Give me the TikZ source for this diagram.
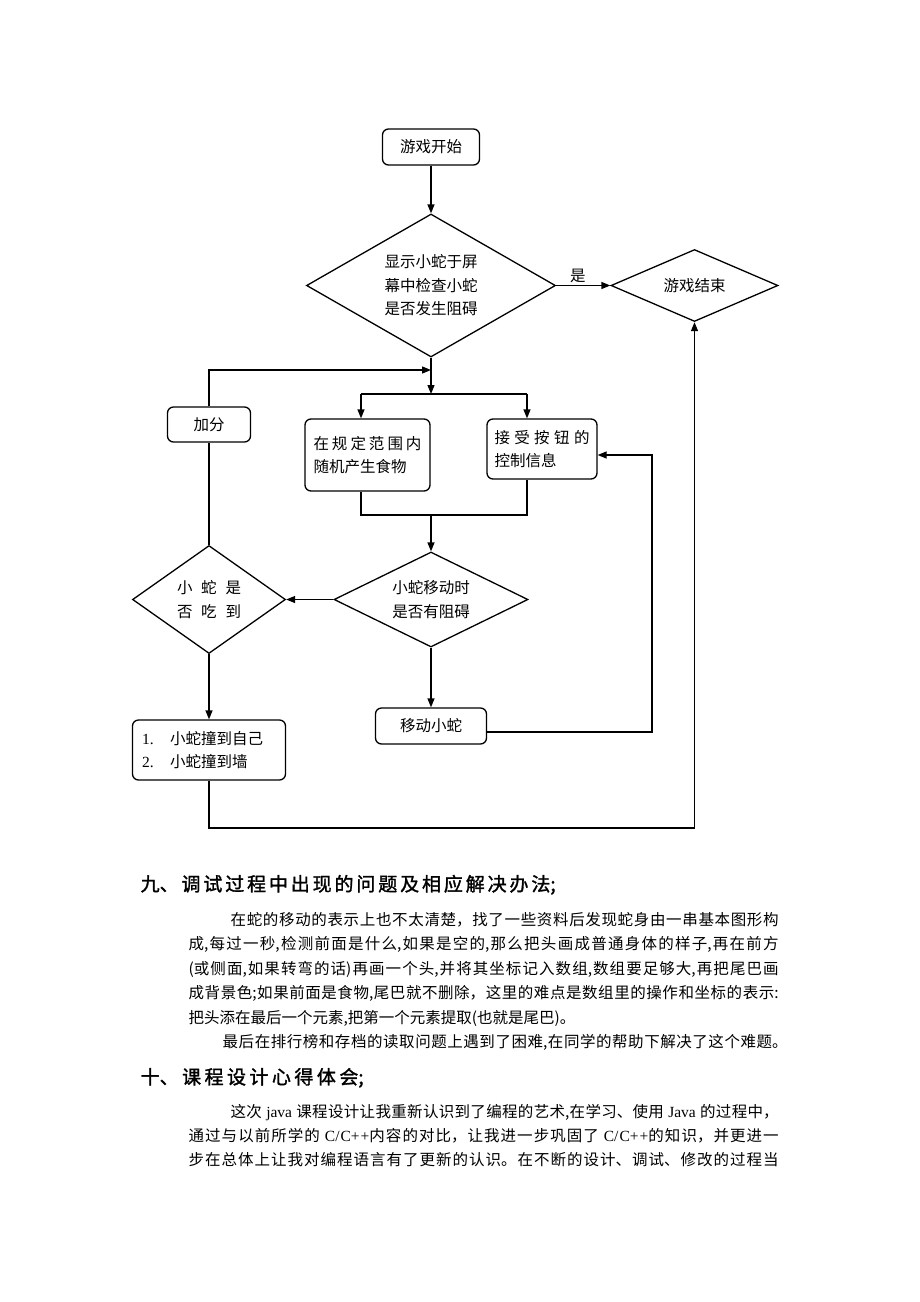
\documentclass[tikz,border=0pt]{standalone}
\usepackage{fontspec}
\setmainfont{Noto Sans CJK SC}
\newfontfamily\lat{Liberation Serif}
\newfontfamily\boldcjk[FakeBold=1.5]{Noto Sans CJK SC}
\usetikzlibrary{shapes.geometric,arrows.meta}
\XeTeXlinebreaklocale "zh"
\XeTeXlinebreakskip=0pt plus 5pt
\newcommand\myDiagFont{\fontsize{15.5}{23.5}\selectfont}
\newcommand\myParaFont{\fontsize{15.5}{18}\selectfont}
\newcommand\myHeadFont{\boldcjk\fontsize{19}{22}\selectfont}
\newcommand\jline[2]{\parbox[b]{#1}{\tolerance=10000\hbadness=10000\parfillskip=0pt\parindent=0pt\spaceskip=4pt plus 5pt\relax #2}}
\begin{document}
\begin{tikzpicture}[x=1pt,y=-1pt,
  line width=1.3pt,
  arr/.style={-{Triangle[length=9pt,width=7pt]}},
  box/.style={draw, rounded corners=6pt, inner sep=0pt, font=\myDiagFont},
  dia/.style={draw, diamond, inner sep=0pt, font=\myDiagFont, align=center},
  para/.style={anchor=base west, inner sep=0pt, font=\myParaFont},
  head/.style={anchor=base west, inner sep=0pt, font=\myHeadFont}]
\fill[white] (0,0) rectangle (920,1302);
\useasboundingbox (0,0) rectangle (920,1302);

% ---------- flowchart nodes ----------
\node[box, minimum width=97pt, minimum height=36pt] (start) at (431,147) {游戏开始};
\node[dia, aspect=1.74, minimum width=249pt, minimum height=143pt] (d1) at (431,285.5) {显示小蛇于屏\\幕中检查小蛇\\是否发生阻碍};
\node[dia, aspect=2.32, minimum width=167pt, minimum height=72pt] (end) at (694.5,285.5) {游戏结束};
\node[box, minimum width=83pt, minimum height=35pt] (add) at (209,424.5) {加分};
\node[box, minimum width=125pt, minimum height=72pt, align=left, text width=108pt] (food) at (367.5,455) {\jline{108pt}{在规定范围内}\\随机产生食物};
\node[box, minimum width=110pt, minimum height=60pt, align=left, text width=95pt] (ctrl) at (542,449) {\jline{95pt}{接受按钮的}\\控制信息};
\node[dia, aspect=2.04, minimum width=194pt, minimum height=95pt] (d3) at (431,599.5) {小蛇移动时\\是否有阻碍};
\node[dia, aspect=1.42, minimum width=153pt, minimum height=108pt] (d2) at (209,599.5) {\hbox to 64pt{小 蛇 是}\\\hbox to 64pt{否 吃 到}};
\node[box, minimum width=153pt, minimum height=60pt, align=left, text width=134pt] (hit) at (209,750) {\makebox[28pt][l]{\lat 1.}小蛇撞到自己\\\makebox[28pt][l]{\lat 2.}小蛇撞到墙};
\node[box, minimum width=111pt, minimum height=36pt] (move) at (431,726) {移动小蛇};

% ---------- helper coordinates ----------
\coordinate (m1) at (431,370);
\coordinate (j1) at (431,394);
\coordinate (jf) at (361,394);
\coordinate (jc) at (527,394);
\coordinate (bf) at (361,515);
\coordinate (bc) at (527,515);
\coordinate (j2) at (431,515);
\coordinate (a1) at (209,370);
\coordinate (c1) at (652,732);
\coordinate (c2) at (652,455);
\coordinate (c3) at (209,828);
\coordinate (c4) at (694.5,828);

% ---------- connectors ----------
\draw[arr] (start.south) -- (d1.north);
\draw[arr] (d1.east) -- node[above, pos=0.4, inner sep=2pt, font=\myDiagFont] {是} (end.west);
\draw[arr] (d1.south) -- (j1);
\draw[arr] (add.north) -- (a1) -- (m1);
\draw (jf) -- (jc);
\draw[arr] (jf) -- (jf |- food.north);
\draw[arr] (jc) -- (jc |- ctrl.north);
\draw (bf |- food.south) -- (bf) -- (bc) -- (bc |- ctrl.south);
\draw[arr] (j2) -- (d3.north);
\draw[arr] (d3.west) -- (d2.east);
\draw (d2.north) -- (add.south);
\draw[arr] (d2.south) -- (hit.north);
\draw[arr] (d3.south) -- (move.north);
\draw[arr] (move.east |- c1) -- (c1) -- (c2) -- (ctrl.east |- c2);
\draw[arr] (hit.south) -- (c3) -- (c4) -- (end.south);

% ---------- text below ----------
\node[head] (h9) at (140,891) {\jline{415pt}{九、调试过程中出现的问题及相应解决办法;}};
\node[para] (p1) at (230,925) {\jline{548pt}{在蛇的移动的表示上也不太清楚，找了一些资料后发现蛇身由一串基本图形构}};
\node[para] (p2) at (188,949) {\jline{590pt}{成,每过一秒,检测前面是什么,如果是空的,那么把头画成普通身体的样子,再在前方}};
\node[para] (p3) at (188,974) {\jline{590pt}{(或侧面,如果转弯的话)再画一个头,并将其坐标记入数组,数组要足够大,再把尾巴画}};
\node[para] (p4) at (188,998) {\jline{590pt}{成背景色;如果前面是食物,尾巴就不删除，这里的难点是数组里的操作和坐标的表示:}};
\node[para] (p5) at (188,1023) {把头添在最后一个元素,把第一个元素提取(也就是尾巴)。};
\node[para] (p6) at (222,1047) {\jline{565pt}{最后在排行榜和存档的读取问题上遇到了困难,在同学的帮助下解决了这个难题。}};
\node[head] (h10) at (140,1084) {\jline{223pt}{十、课程设计心得体会;}};
\node[para] (q1) at (230,1117) {\jline{548pt}{这次 {\lat java} 课程设计让我重新认识到了编程的艺术,在学习、使用 {\lat Java} 的过程中，}};
\node[para] (q2) at (188,1141) {\jline{590pt}{通过与以前所学的 {\lat C/C++}内容的对比，让我进一步巩固了 {\lat C/C++}的知识，并更进一}};
\node[para] (q3) at (188,1165) {\jline{590pt}{步在总体上让我对编程语言有了更新的认识。在不断的设计、调试、修改的过程当}};
\end{tikzpicture}
\end{document}
